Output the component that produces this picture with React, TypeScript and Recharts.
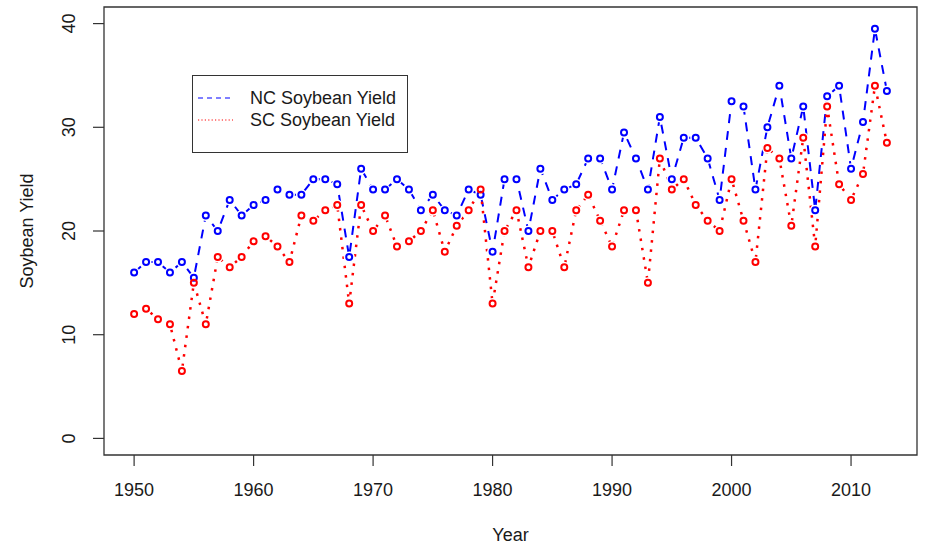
import { LineChart, Line, XAxis, YAxis, ReferenceArea, Legend } from 'recharts';

const years = [
  1950, 1951, 1952, 1953, 1954, 1955, 1956, 1957, 1958, 1959,
  1960, 1961, 1962, 1963, 1964, 1965, 1966, 1967, 1968, 1969,
  1970, 1971, 1972, 1973, 1974, 1975, 1976, 1977, 1978, 1979,
  1980, 1981, 1982, 1983, 1984, 1985, 1986, 1987, 1988, 1989,
  1990, 1991, 1992, 1993, 1994, 1995, 1996, 1997, 1998, 1999,
  2000, 2001, 2002, 2003, 2004, 2005, 2006, 2007, 2008, 2009,
  2010, 2011, 2012, 2013,
];

const ncYield = [
  16, 17, 17, 16, 17, 15.5, 21.5, 20, 23, 21.5,
  22.5, 23, 24, 23.5, 23.5, 25, 25, 24.5, 17.5, 26,
  24, 24, 25, 24, 22, 23.5, 22, 21.5, 24, 23.5,
  18, 25, 25, 20, 26, 23, 24, 24.5, 27, 27,
  24, 29.5, 27, 24, 31, 25, 29, 29, 27, 23,
  32.5, 32, 24, 30, 34, 27, 32, 22, 33, 34,
  26, 30.5, 39.5, 33.5,
];

const scYield = [
  12, 12.5, 11.5, 11, 6.5, 15, 11, 17.5, 16.5, 17.5,
  19, 19.5, 18.5, 17, 21.5, 21, 22, 22.5, 13, 22.5,
  20, 21.5, 18.5, 19, 20, 22, 18, 20.5, 22, 24,
  13, 20, 22, 16.5, 20, 20, 16.5, 22, 23.5, 21,
  18.5, 22, 22, 15, 27, 24, 25, 22.5, 21, 20,
  25, 21, 17, 28, 27, 20.5, 29, 18.5, 32, 24.5,
  23, 25.5, 34, 28.5,
];

const xTicks = [1950, 1960, 1970, 1980, 1990, 2000, 2010];
const yTicks = [0, 10, 20, 30, 40];
const xDomain = [1947.48, 2015.52];
const yDomain = [-1.6, 41.6];

const data = years.map((year, i) => ({ year, nc: ncYield[i], sc: scYield[i] }));

const FONT = '"Liberation Sans", Arial, sans-serif';
const TEXT = '#1a1a1a';
const FRAME = '#333';

// white disc under each point, gives the gap that R's type = "b" leaves
const haloDot = (props: any) => {
  const { cx, cy, index } = props;
  if (cx == null || cy == null) return <g key={index} />;
  return <circle key={index} cx={cx} cy={cy} r={5.5} fill="#fff" stroke="none" />;
};

function ringDot(color: string) {
  return (props: any) => {
    const { cx, cy, index } = props;
    if (cx == null || cy == null) return <g key={index} />;
    return <circle key={index} cx={cx} cy={cy} r={3} fill="none" stroke={color} strokeWidth={2} />;
  };
}

function YTick(props: any) {
  const { x, y, payload } = props;
  const cx = x - 22;
  return (
    <text
      x={cx}
      y={y}
      transform={`rotate(-90 ${cx} ${y})`}
      textAnchor="middle"
      dominantBaseline="central"
      fill={TEXT}
      fontSize={18}
      fontFamily={FONT}
    >
      {payload.value}
    </text>
  );
}

function LegendBox() {
  const rows = [
    { label: 'NC Soybean Yield', color: 'blue', dash: '5 4' },
    { label: 'SC Soybean Yield', color: 'red', dash: '1.2 2.2' },
  ];
  return (
    <div
      style={{
        border: `1px solid ${FRAME}`,
        width: 214,
        height: 65,
        boxSizing: 'content-box',
        background: '#fff',
        fontFamily: FONT,
        fontSize: 18,
        color: TEXT,
        paddingTop: 11,
      }}
    >
      {rows.map((r) => (
        <div key={r.label} style={{ display: 'flex', alignItems: 'center', height: 22 }}>
          <svg width={52} height={10} style={{ marginLeft: 5 }}>
            <line x1={0} y1={5} x2={35} y2={5} stroke={r.color} strokeWidth={1.2} strokeDasharray={r.dash} />
          </svg>
          <span style={{ lineHeight: '22px' }}>{r.label}</span>
        </div>
      ))}
    </div>
  );
}

export default function App() {
  return (
    <div style={{ position: 'absolute', left: 0, top: 0, background: '#fff' }}>
      <LineChart width={928} height={547} data={data} margin={{ top: 7, right: 11, left: 0, bottom: 0 }}>
        <ReferenceArea
          x1={xDomain[0]}
          x2={xDomain[1]}
          y1={yDomain[0]}
          y2={yDomain[1]}
          fill="none"
          fillOpacity={0}
          stroke={FRAME}
          strokeWidth={1.3}
          ifOverflow="visible"
        />
        <XAxis
          dataKey="year"
          type="number"
          domain={xDomain}
          allowDataOverflow
          ticks={xTicks}
          axisLine={false}
          tickLine={{ stroke: FRAME, strokeWidth: 1.2 }}
          tickSize={11}
          tickMargin={17}
          height={92}
          tick={{ fill: TEXT, fontSize: 18, fontFamily: FONT }}
          label={(p: any) => {
            const vb = p.viewBox;
            return (
              <text
                x={vb.x + vb.width / 2}
                y={vb.y + 80}
                textAnchor="middle"
                dominantBaseline="central"
                fill={TEXT}
                fontSize={18}
                fontFamily={FONT}
              >
                Year
              </text>
            );
          }}
        />
        <YAxis
          type="number"
          domain={yDomain}
          allowDataOverflow
          ticks={yTicks}
          axisLine={false}
          tickLine={{ stroke: FRAME, strokeWidth: 1.2 }}
          tickSize={11}
          width={104}
          tick={<YTick />}
          label={(p: any) => {
            const vb = p.viewBox;
            const cx = vb.x + 27;
            const cy = vb.y + vb.height / 2;
            return (
              <text
                x={cx}
                y={cy}
                transform={`rotate(-90 ${cx} ${cy})`}
                textAnchor="middle"
                dominantBaseline="central"
                fill={TEXT}
                fontSize={18}
                fontFamily={FONT}
              >
                Soybean Yield
              </text>
            );
          }}
        />
        <Legend
          layout="horizontal"
          verticalAlign="middle"
          align="center"
          wrapperStyle={{ left: 192, top: 75, width: 'auto', height: 'auto' }}
          content={<LegendBox />}
        />
        <Line
          dataKey="nc"
          type="linear"
          stroke="blue"
          strokeWidth={2}
          strokeDasharray="9 8"
          dot={false}
          isAnimationActive={false}
        />
        <Line
          dataKey="sc"
          type="linear"
          stroke="red"
          strokeWidth={2.5}
          strokeDasharray="2.5 7"
          dot={false}
          isAnimationActive={false}
        />
        <Line dataKey="nc" stroke="none" dot={haloDot} activeDot={false} isAnimationActive={false} />
        <Line dataKey="sc" stroke="none" dot={haloDot} activeDot={false} isAnimationActive={false} />
        <Line dataKey="nc" stroke="none" dot={ringDot('blue')} activeDot={false} isAnimationActive={false} />
        <Line dataKey="sc" stroke="none" dot={ringDot('red')} activeDot={false} isAnimationActive={false} />
      </LineChart>
    </div>
  );
}
